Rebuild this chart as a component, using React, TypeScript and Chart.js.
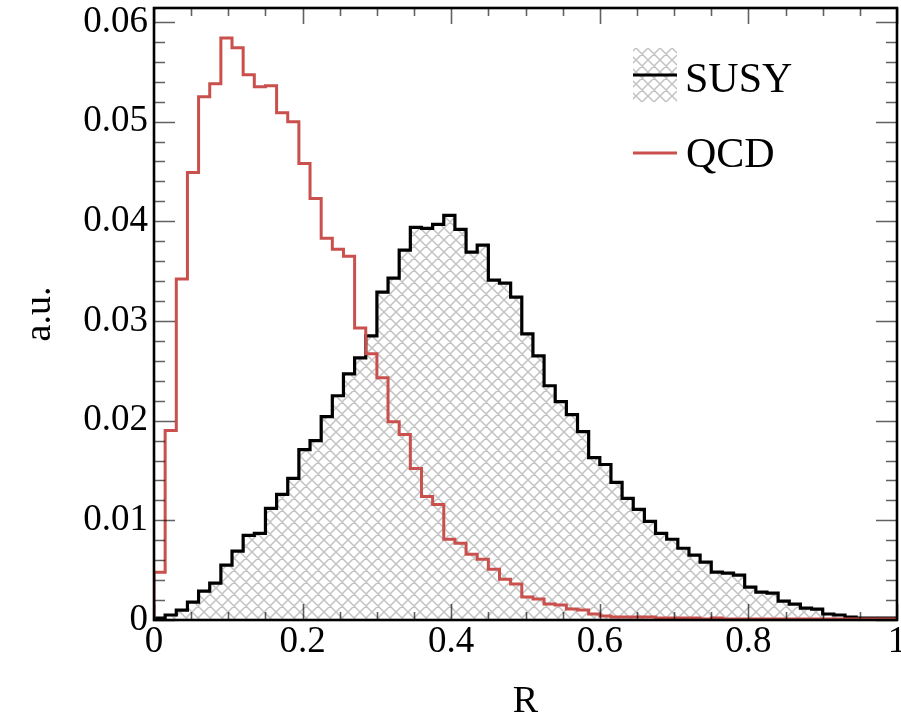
import React, { useEffect, useRef } from "react";
import { Chart, registerables } from "chart.js";

Chart.register(...registerables);

// ---- data ----
const BIN_WIDTH = 0.015;
const seriesNames = ["SUSY", "QCD"];
const susyValues = [
  0.0002, 0.0005, 0.001, 0.0018, 0.0029, 0.0037, 0.0055, 0.0069, 0.0085, 0.0087,
  0.0112, 0.0126, 0.0142, 0.0171, 0.018, 0.0204, 0.0225, 0.0247, 0.0263, 0.0285,
  0.0329, 0.0343, 0.0371, 0.0394, 0.0393, 0.0397, 0.0406, 0.0392, 0.0369, 0.0376,
  0.0341, 0.0338, 0.0324, 0.0287, 0.0265, 0.0235, 0.0219, 0.0206, 0.0189, 0.0163,
  0.0156, 0.0138, 0.0122, 0.0111, 0.0099, 0.0087, 0.0081, 0.0072, 0.0065, 0.0058,
  0.0048, 0.0047, 0.0045, 0.0033, 0.0028, 0.0027, 0.0019, 0.0016, 0.0012, 0.0011,
  0.0006, 0.0005, 0.0003, 0.0002, 0.0002, 0.0002, 0.0002,
];
const qcdValues = [
  0.0048, 0.019, 0.0342, 0.0449, 0.0525, 0.0538, 0.0584, 0.0574, 0.0547, 0.0535,
  0.0536, 0.0509, 0.05, 0.0458, 0.0423, 0.0383, 0.0372, 0.0365, 0.0293, 0.0267,
  0.0243, 0.0199, 0.0186, 0.0152, 0.0124, 0.0116, 0.0081, 0.0077, 0.0066, 0.0061,
  0.0051, 0.0041, 0.0036, 0.0023, 0.0021, 0.0016, 0.0015, 0.0011, 0.001, 0.0006,
  0.0004, 0.0003, 0.0003, 0.0003, 0.0003, 0.0002, 0.0002, 0.0002, 0.0002, 0.0001,
  0.0002, 0.0001, 0.0001, 0.0001, 0.0001, 0.0001, 0.0001, 0.0001, 0.0001, 0.0001,
  0.0001, 0.0001, 0.0001, 0.0001, 0.0001, 0.0001, 0.0001,
];
const xTickValues = [0, 0.2, 0.4, 0.6, 0.8, 1];
const xTickLabels = ["0", "0.2", "0.4", "0.6", "0.8", "1"];
const yTickValues = [0, 0.01, 0.02, 0.03, 0.04, 0.05, 0.06];
const yTickLabels = ["0", "0.01", "0.02", "0.03", "0.04", "0.05", "0.06"];
const X_MIN = 0;
const X_MAX = 1;
const Y_MIN = 0;
const Y_MAX = 0.0614;
const xMinorStep = 0.05;
const yMinorStep = 0.002;

const SERIF = "'Liberation Serif', 'DejaVu Serif', serif";
const SUSY_COLOR = "#000000";
const QCD_COLOR = "#c9504d";
const HATCH_COLOR = "#c2c2c2";

function toSteps(values: number[]) {
  const pts: { x: number; y: number }[] = [{ x: 0, y: 0 }];
  values.forEach((v, i) => pts.push({ x: i * BIN_WIDTH, y: v }));
  pts.push({ x: values.length * BIN_WIDTH, y: values[values.length - 1] });
  return pts;
}

function makeHatch(): CanvasPattern | string {
  const s = 12;
  const c = document.createElement("canvas");
  c.width = s;
  c.height = s;
  const g = c.getContext("2d");
  if (!g) return "#ddd";
  g.fillStyle = "#ffffff";
  g.fillRect(0, 0, s, s);
  g.strokeStyle = HATCH_COLOR;
  g.lineWidth = 1.5;
  g.beginPath();
  for (let k = -1; k <= 1; k++) {
    g.moveTo(k * s - s, -s);
    g.lineTo(k * s + 2 * s, 2 * s);
    g.moveTo(-s, s + k * s + s);
    g.lineTo(2 * s, s + k * s - 2 * s);
  }
  g.stroke();
  const p = g.createPattern(c, "repeat");
  return p || "#ddd";
}

const frameTicksPlugin = {
  id: "frameTicks",
  afterDatasetsDraw(chart: any) {
    const { ctx, chartArea } = chart;
    const xs = chart.scales.x;
    const ys = chart.scales.y;
    const { left, right, top, bottom } = chartArea;
    ctx.save();
    ctx.strokeStyle = "rgba(0,0,0,0.62)";
    ctx.lineWidth = 1.6;
    ctx.beginPath();
    const xMajLen = 16, xMinLen = 8, yMajLen = 21, yMinLen = 11;
    const nx = Math.round((X_MAX - X_MIN) / xMinorStep);
    for (let i = 0; i <= nx; i++) {
      const v = X_MIN + i * xMinorStep;
      const major = xTickValues.some((t) => Math.abs(t - v) < 1e-9);
      const len = major ? xMajLen : xMinLen;
      const px = Math.round(xs.getPixelForValue(v)) + 0.5;
      ctx.moveTo(px, bottom);
      ctx.lineTo(px, bottom - len);
      ctx.moveTo(px, top);
      ctx.lineTo(px, top + len);
    }
    const ny = Math.floor((Y_MAX - Y_MIN) / yMinorStep + 1e-9);
    for (let i = 0; i <= ny; i++) {
      const v = Y_MIN + i * yMinorStep;
      const major = yTickValues.some((t) => Math.abs(t - v) < 1e-9);
      const len = major ? yMajLen : yMinLen;
      const py = Math.round(ys.getPixelForValue(v)) + 0.5;
      ctx.moveTo(left, py);
      ctx.lineTo(left + len, py);
      ctx.moveTo(right, py);
      ctx.lineTo(right - len, py);
    }
    ctx.stroke();
    ctx.strokeStyle = "#000";
    ctx.lineWidth = 2.6;
    ctx.strokeRect(left, top, right - left, bottom - top);

    // legend
    const hatch = chart.data.datasets[0].backgroundColor;
    const bx = right - 264;
    const by = top + 40;
    const bw = 44;
    const bh = 54;
    ctx.fillStyle = hatch;
    ctx.fillRect(bx, by, bw, bh);
    ctx.strokeStyle = SUSY_COLOR;
    ctx.lineWidth = 3.2;
    ctx.beginPath();
    ctx.moveTo(bx, by + 27);
    ctx.lineTo(bx + bw, by + 27);
    ctx.stroke();
    ctx.strokeStyle = QCD_COLOR;
    ctx.lineWidth = 3;
    ctx.beginPath();
    ctx.moveTo(bx, top + 145);
    ctx.lineTo(bx + bw, top + 145);
    ctx.stroke();
    ctx.fillStyle = "#000";
    ctx.font = `42px ${SERIF}`;
    ctx.textAlign = "left";
    ctx.textBaseline = "alphabetic";
    ctx.fillText(seriesNames[0], bx + 52, top + 84);
    ctx.fillText(seriesNames[1], bx + 53, top + 159);
    ctx.restore();
  },
};

export default function App() {
  const ref = useRef<HTMLCanvasElement | null>(null);
  useEffect(() => {
    const canvas = ref.current;
    if (!canvas) return;
    const hatch = makeHatch();
    const chart = new Chart(canvas, {
      type: "line",
      data: {
        datasets: [
          {
            label: seriesNames[0],
            data: toSteps(susyValues),
            stepped: "before",
            borderColor: SUSY_COLOR,
            borderWidth: 3.2,
            backgroundColor: hatch as any,
            fill: "origin",
            pointRadius: 0,
            order: 2,
            borderJoinStyle: "miter",
          },
          {
            label: seriesNames[1],
            data: toSteps(qcdValues),
            stepped: "before",
            borderColor: QCD_COLOR,
            borderWidth: 3,
            fill: false,
            pointRadius: 0,
            order: 1,
            borderJoinStyle: "miter",
          },
        ],
      },
      options: {
        animation: false,
        responsive: false,
        devicePixelRatio: 1,
        layout: { padding: { top: 8, right: 4, left: 0, bottom: 0 } },
        plugins: {
          legend: { display: false },
          tooltip: { enabled: false },
        },
        scales: {
          x: {
            type: "linear",
            min: X_MIN,
            max: X_MAX,
            grid: { display: false, drawTicks: false },
            border: { display: false },
            afterBuildTicks: (s: any) => {
              s.ticks = xTickValues.map((v) => ({ value: v }));
            },
            afterFit: (s: any) => {
              s.height = 106;
              s.paddingLeft = 0;
              s.paddingRight = 0;
            },
            ticks: {
              padding: 0,
              maxRotation: 0,
              autoSkip: false,
              color: "#000",
              font: { family: SERIF, size: 37 },
              callback: (_v: any, i: number) => xTickLabels[i],
            },
            title: {
              display: true,
              text: "R",
              color: "#000",
              font: { family: SERIF, size: 38 },
              padding: { top: 0, bottom: 1 },
            },
          },
          y: {
            type: "linear",
            min: Y_MIN,
            max: Y_MAX,
            grid: { display: false, drawTicks: false },
            border: { display: false },
            afterBuildTicks: (s: any) => {
              s.ticks = yTickValues.map((v) => ({ value: v }));
            },
            afterFit: (s: any) => {
              s.width = 154;
              s.paddingTop = 0;
              s.paddingBottom = 0;
            },
            ticks: {
              padding: 6,
              autoSkip: false,
              color: "#000",
              font: { family: SERIF, size: 37 },
              callback: (_v: any, i: number) => yTickLabels[i],
            },
            title: {
              display: true,
              text: "a.u.",
              color: "#000",
              font: { family: SERIF, size: 38 },
              padding: { top: 17, bottom: 0 },
            },
          },
        },
      },
      plugins: [frameTicksPlugin],
    } as any);
    return () => chart.destroy();
  }, []);
  return (
    <div style={{ position: "fixed", left: 0, top: 0, width: 901, height: 726, background: "#fff" }}>
      <canvas ref={ref} width={901} height={726} style={{ width: 901, height: 726, display: "block" }} />
    </div>
  );
}
